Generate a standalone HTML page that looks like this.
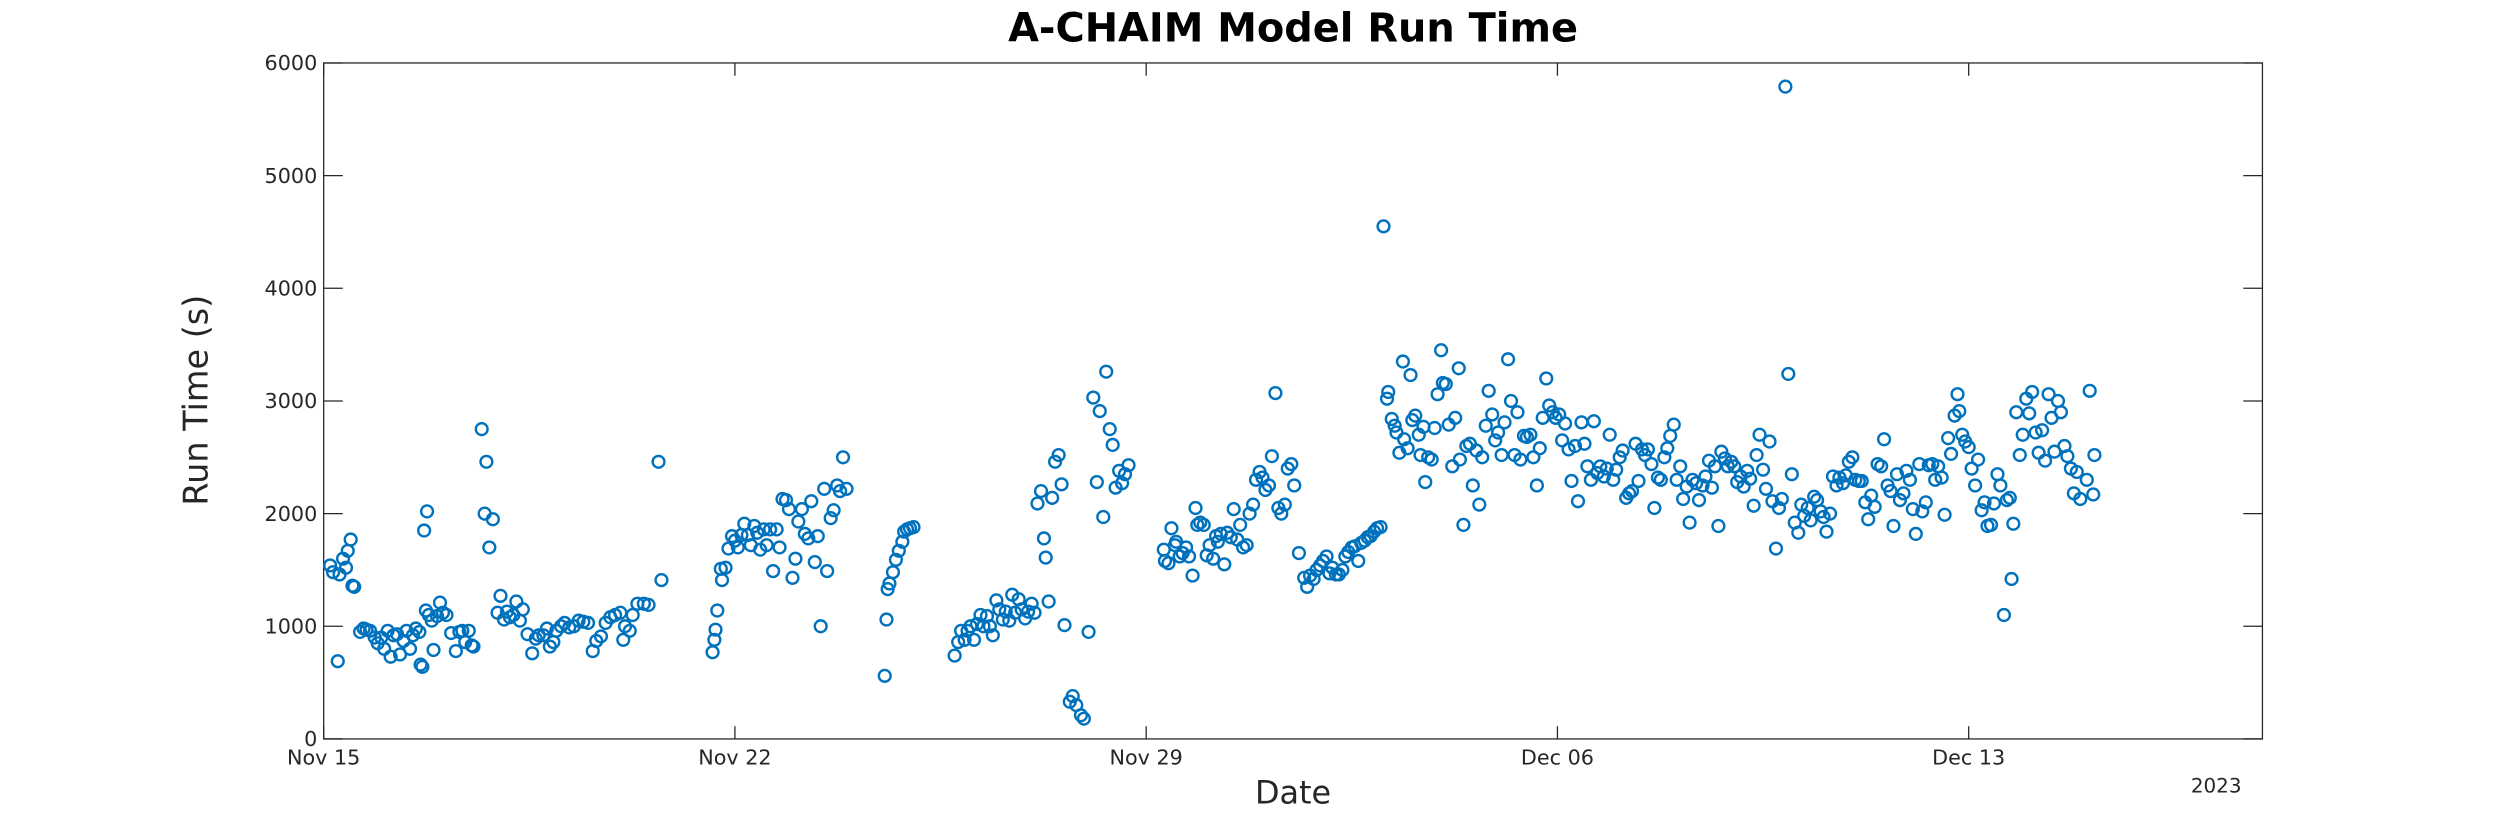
<!DOCTYPE html>
<html><head><meta charset="utf-8"><style>
html,body{margin:0;padding:0;background:#fff;}
svg{display:block;font-family:"Liberation Sans","DejaVu Sans",sans-serif;}
</style></head><body>
<svg id="chart" width="2500" height="833" viewBox="0 0 1568 522.5" preserveAspectRatio="none" xmlns="http://www.w3.org/2000/svg">
<rect width="1568" height="522.5" fill="#fff"/>
<text x="811" y="26" text-anchor="middle" font-size="25" font-weight="bold" fill="#000" font-family="DejaVu Sans, sans-serif">A-CHAIM Model Run Time</text>
<g id="axes"></g>
<g id="marks"></g>
<text transform="translate(130,251) rotate(-90)" text-anchor="middle" font-size="21" fill="#262626" font-family="DejaVu Sans, sans-serif">Run Time (s)</text>
<text x="811" y="504" text-anchor="middle" font-size="20" fill="#262626" font-family="DejaVu Sans, sans-serif">Date</text>
<text x="1390" y="497" text-anchor="middle" font-size="12.5" fill="#262626" font-family="DejaVu Sans, sans-serif">2023</text>
</svg>
<script>
const xTickDays = [0, 7, 14, 21, 28];
const xTickLabels = ["Nov 15", "Nov 22", "Nov 29", "Dec 06", "Dec 13"];
const yTicks = [0, 1000, 2000, 3000, 4000, 5000, 6000];
const days = [
0.11,0.16,0.24,0.27,0.33,0.38,0.41,0.46,0.49,0.52,0.62,0.68,0.73,0.79,0.87,0.92,0.98,1.03,1.09,1.14,1.19,1.25,1.30,1.36,1.41,1.47,1.52,1.57,1.63,1.65,1.68,1.71,1.76,1.74,1.79,1.84,1.87,1.93,1.98,2.03,2.09,2.17,2.25,2.31,2.36,2.41,2.47,2.52,2.55,2.69,2.74,2.77,2.82,2.88,2.96,3.01,3.07,3.12,3.17,3.23,3.28,3.34,3.39,3.47,3.55,3.61,3.66,3.74,3.80,3.85,3.91,3.96,4.04,4.10,4.18,4.26,4.34,4.42,4.50,4.58,4.64,4.72,4.80,4.88,4.96,5.05,5.10,5.13,5.21,5.26,5.34,5.45,5.53,5.70,5.75,
6.62,6.65,6.67,6.70,6.76,6.78,6.84,6.89,6.95,7.00,7.05,7.11,7.16,7.22,7.27,7.33,7.38,7.43,7.49,7.54,7.60,7.65,7.71,7.76,7.81,7.87,7.92,7.98,8.03,8.08,8.14,8.19,8.25,8.30,8.36,8.41,8.46,8.52,8.57,8.63,8.68,8.74,8.79,8.84,8.90,
9.55,9.58,9.60,9.63,9.69,9.74,9.79,9.85,9.88,9.93,9.98,10.04,
10.74,10.80,10.85,10.91,10.96,11.01,11.07,11.12,11.18,11.23,11.29,11.34,11.39,11.45,11.50,11.56,11.61,11.67,11.72,11.77,11.83,11.88,11.94,11.99,12.05,12.10,12.15,12.21,12.26,12.29,12.34,12.40,12.45,12.51,12.56,12.61,12.70,12.75,12.81,12.89,12.94,13.02,13.10,13.16,13.21,13.27,13.32,13.38,13.43,13.48,13.54,13.59,13.64,13.70,
14.30,14.32,14.38,14.43,14.49,14.51,14.57,14.62,14.68,14.73,14.79,14.84,14.87,14.92,14.98,15.03,15.08,15.14,15.19,15.22,15.27,15.33,15.38,15.44,15.49,15.55,15.60,15.65,15.71,15.76,15.82,15.87,15.93,15.98,16.03,16.09,16.14,16.20,16.25,16.30,16.36,16.41,16.47,16.52,16.60,16.69,16.74,16.79,16.85,16.90,16.96,17.01,17.07,17.12,17.17,17.23,17.28,17.34,17.39,17.44,17.50,17.55,17.61,17.66,17.72,17.77,17.82,17.88,17.93,17.99,18.04,
18.10,18.12,18.18,18.23,18.26,18.31,18.37,18.39,18.45,18.50,18.53,18.58,18.64,18.67,18.72,18.75,18.80,18.86,18.91,18.96,19.02,19.05,19.10,19.15,19.21,19.26,19.32,19.34,19.40,19.45,19.51,19.56,19.62,19.67,19.72,19.78,19.83,19.89,19.94,19.99,20.05,20.10,20.16,20.21,20.27,20.32,20.37,20.43,20.48,20.54,20.59,20.65,20.70,20.75,20.81,20.86,20.92,20.97,21.03,21.08,21.13,21.19,21.24,21.30,21.35,21.41,21.46,21.51,21.57,21.62,21.68,21.73,21.79,21.84,21.89,21.95,22.00,22.06,22.11,22.17,22.22,22.27,22.33,22.38,22.44,22.49,22.54,22.60,22.65,22.71,22.76,22.82,22.87,22.92,22.98,23.03,23.09,23.14,23.20,23.25,23.30,23.36,23.41,23.47,23.52,23.58,23.63,23.68,23.74,23.79,23.85,23.90,23.96,24.01,24.06,24.12,24.17,24.23,24.28,24.34,24.39,24.44,24.50,24.55,24.61,24.66,24.72,24.77,24.82,24.88,24.93,24.99,25.04,25.10,25.15,25.20,25.26,25.31,25.37,25.42,25.48,25.53,25.58,25.64,25.69,25.75,25.80,25.86,25.91,25.96,26.02,26.07,26.13,26.18,26.24,26.29,26.34,26.40,26.45,26.51,26.56,26.62,26.67,26.72,26.78,26.83,26.89,26.94,27.00,27.05,27.10,27.16,27.21,27.27,27.32,27.38,27.43,27.48,27.54,27.59,27.65,27.70,27.76,27.81,27.84,27.89,27.94,28.00,28.05,28.11,28.16,28.22,28.27,28.32,28.38,28.43,28.49,28.54,28.60,28.65,28.70,28.73,28.76,28.81,28.87,28.92,28.98,29.03,29.08,29.14,29.19,29.25,29.30,29.36,29.41,29.46,29.52,29.57,29.63,29.68,29.74,29.79,29.84,29.90,30.01,30.06,30.12,30.14
];
const runTimes = [
1540,1480,690,1460,1600,1520,1670,1770,1360,1350,950,980,970,960,900,850,900,800,960,730,920,930,750,870,960,800,920,980,950,660,640,1850,2020,1140,1100,1050,790,1090,1210,1120,1100,940,780,950,960,860,960,830,820,2750,2000,2460,1700,1950,1120,1270,1060,1130,1080,1100,1220,1050,1150,930,760,890,920,920,980,820,860,960,1000,1030,990,1000,1050,1040,1030,780,870,910,1030,1080,1100,1120,880,1000,960,1100,1200,1200,1190,2460,1410,
770,880,970,1140,1510,1410,1520,1690,1800,1760,1700,1810,1910,1810,1720,1890,1830,1680,1860,1720,1860,1490,1860,1700,2130,2120,2040,1430,1600,1930,2040,1820,1780,2110,1570,1800,1000,2220,1490,1960,2030,2250,2200,2500,2220,
560,1060,1330,1380,1480,1590,1670,1750,1840,1860,1870,1880,
740,860,960,880,960,1000,880,1020,1100,1000,1090,1000,920,1230,1150,1060,1130,1050,1280,1120,1240,1150,1070,1130,1200,1120,2090,2200,1780,1610,1220,2140,2460,2520,2260,1010,330,380,300,210,180,950,3030,2280,2910,1970,3260,2750,2610,2230,2380,2270,2350,2430,
1680,1580,1560,1870,1720,1750,1620,1650,1700,1620,1450,2050,1900,1920,1900,1630,1720,1600,1800,1750,1820,1550,1830,1790,2040,1770,1900,1700,1720,2000,2080,2300,2370,2320,2210,2250,2510,3070,2050,2000,2080,2400,2440,2250,1650,1430,1350,1450,1420,1500,1540,1580,1620,1470,1520,1460,1460,1500,1620,1660,1700,1710,1580,1740,1760,1790,1800,1840,1870,1880,4550,
3020,3080,2840,2780,2720,2540,3350,2660,2580,3230,2830,2870,2700,2520,2770,2280,2500,2480,2760,3060,3450,3160,3150,2790,2420,2850,3290,2480,1900,2600,2620,2250,2560,2080,2500,2780,3090,2880,2650,2720,2520,2810,3370,3000,2520,2900,2480,2690,2680,2700,2500,2250,2580,2850,3200,2960,2900,2850,2880,2650,2800,2570,2290,2600,2110,2810,2620,2420,2300,2820,2360,2420,2330,2400,2700,2300,2390,2500,2560,2140,2180,2200,2620,2290,2570,2520,2570,2440,2050,2320,2300,2500,2580,2690,2790,2300,2420,2130,2240,1920,2300,2270,2120,2250,2330,2470,2230,2420,1890,2550,2490,2420,2460,2420,2280,2330,2240,2380,2310,2070,2520,2700,2390,2220,2640,2110,1690,2050,2130,5790,3240,2350,1920,1830,2080,1980,2050,1940,2150,2120,2020,1970,1840,2000,2330,2250,2320,2270,2340,2460,2500,2300,2290,2290,2100,1950,2160,2060,2440,2420,2660,2250,2200,1890,2350,2120,2180,2380,2300,2040,1820,2440,2020,2100,2430,2440,2300,2420,2320,1990,2670,2530,2870,3060,2910,2700,2640,2590,2400,2250,2480,2030,2100,1890,1900,2090,2350,2250,1100,2120,2140,1420,1910,2900,2520,2700,3020,2890,3080,2720,2540,2740,2470,3060,2850,2550,3000,2900,2600,2510,2400,2180,2370,2130,2300,3090,2170,2520,2870
];
const NS = "http://www.w3.org/2000/svg";
const L = 203, R = 1419, T = 39.5, B = 463.5;
const xMax = 33, yMax = 6000;
function xs(d){ return L + d / xMax * (R - L); }
function ys(v){ return B - v / yMax * (B - T); }
function mk(tag, attrs, parent){
  const e = document.createElementNS(NS, tag);
  for (const k in attrs) e.setAttribute(k, attrs[k]);
  parent.appendChild(e); return e;
}
const axes = document.getElementById("axes");
const box = mk("rect", {x:L, y:T, width:R-L, height:B-T, fill:"none", stroke:"#262626", "stroke-width":0.8}, axes);


xTickDays.forEach((d, i) => {
  const x = xs(d);
  const t1 = mk("line", {x1:x, x2:x, y1:B, y2:B-8, stroke:"#262626", "stroke-width":0.8}, axes);
  
  
  const t2 = mk("line", {x1:x, x2:x, y1:T, y2:T+8, stroke:"#262626", "stroke-width":0.8}, axes);
  
  
  const lb = mk("text", {x:x, y:B+16, "text-anchor":"middle", "font-size":13, fill:"#262626", "font-family":"DejaVu Sans, sans-serif"}, axes);
  lb.textContent = xTickLabels[i];
  
  
});
yTicks.forEach(v => {
  const y = ys(v);
  const t1 = mk("line", {x1:L, x2:L+12, y1:y, y2:y, stroke:"#262626", "stroke-width":0.8}, axes);
  
  
  const t2 = mk("line", {x1:R, x2:R-12, y1:y, y2:y, stroke:"#262626", "stroke-width":0.8}, axes);
  
  
  const lb = mk("text", {x:L-4, y:y+4.5, "text-anchor":"end", "font-size":13, fill:"#262626", "font-family":"DejaVu Sans, sans-serif"}, axes);
  lb.textContent = String(v);
  
  
});
const marks = document.getElementById("marks");
const n = Math.min(days.length, runTimes.length);
for (let i = 0; i < n; i++){
  const c = mk("ellipse", {cx:xs(days[i]), cy:ys(runTimes[i]), rx:3.7, ry:3.7, fill:"none", stroke:"#0072BD", "stroke-width":1.5}, marks);
  
  
}
</script>
</body></html>
